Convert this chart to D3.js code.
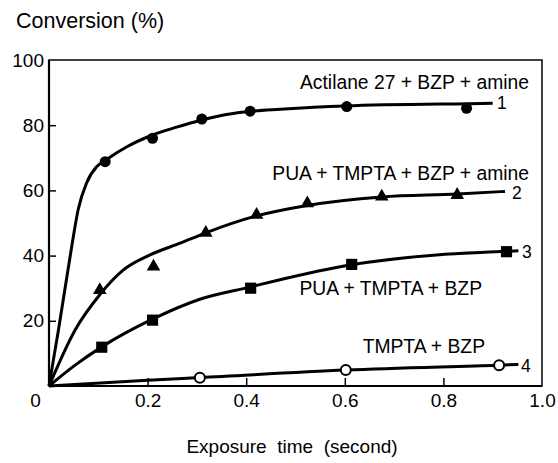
<!DOCTYPE html>
<html>
<head>
<meta charset="utf-8">
<script src="https://cdn.jsdelivr.net/npm/d3@7"></script>
<style>
  html, body { margin: 0; padding: 0; background: #fff; }
  svg { display: block; font-family: "Liberation Sans", Arial, Helvetica, sans-serif; }
</style>
</head>
<body>
<svg id="chart" width="558" height="463"></svg>
<script>
// ---------- data ----------
const xTicks = [0, 0.2, 0.4, 0.6, 0.8, 1.0];
const xTickLabels = ["0", "0.2", "0.4", "0.6", "0.8", "1.0"];
const yTicks = [20, 40, 60, 80, 100];
const yTickLabels = ["20", "40", "60", "80", "100"];

const seriesNames = ["Actilane 27 + BZP + amine", "PUA + TMPTA + BZP + amine", "PUA + TMPTA + BZP", "TMPTA + BZP"];
const seriesNumbers = ["1", "2", "3", "4"];

// measured points [time (s), conversion (%)]
const points1 = [[0.114, 68.8], [0.21, 76.0], [0.31, 81.9], [0.408, 84.3], [0.604, 85.7], [0.847, 85.2]];
const points2 = [[0.103, 29.4], [0.212, 36.6], [0.318, 47.0], [0.421, 52.5], [0.524, 56.0], [0.675, 58.1], [0.828, 58.6]];
const points3 = [[0.107, 11.9], [0.21, 20.2], [0.409, 30.0], [0.614, 37.3], [0.928, 41.2]];
const points4 = [[0.306, 2.5], [0.602, 4.9], [0.913, 6.4]];

// hand-drawn fitted curves
const curve1 = [[0, 0], [0.019, 17], [0.046, 42.7], [0.059, 54], [0.076, 62.2], [0.097, 67.3], [0.114, 69.2], [0.158, 73.4], [0.21, 77], [0.259, 79.4], [0.31, 81.6], [0.36, 83.3], [0.41, 84.3], [0.469, 84.9], [0.6, 85.9], [0.85, 86.6], [0.9, 86.7]];
const curve2 = [[0, 0], [0.053, 17.2], [0.103, 28], [0.151, 35.6], [0.205, 40.2], [0.266, 43.8], [0.318, 47], [0.421, 52.2], [0.524, 55.4], [0.675, 58], [0.828, 58.9], [0.925, 59.7]];
const curve3 = [[0, 0], [0.053, 6.4], [0.107, 12], [0.21, 20.5], [0.306, 26.6], [0.409, 30.4], [0.46, 32.3], [0.614, 37.2], [0.786, 40.2], [0.928, 41.3], [0.952, 41.5]];
const curve4 = [[0, 0], [0.2, 1.8], [0.306, 2.6], [0.602, 4.9], [0.913, 6.4], [0.952, 6.6]];

// ---------- layout ----------
const svg = d3.select("#chart");
const L = 49, R = 542, T = 60, B = 386;
const x = d3.scaleLinear().domain([0, 1]).range([L, R]);
const y = d3.scaleLinear().domain([0, 100]).range([B, T]);

// axes
const xAxis = d3.axisBottom(x).tickValues(xTicks)
  .tickFormat((d, i) => xTickLabels[i]).tickSize(-8).tickPadding(8);
const gx = svg.append("g").attr("transform", `translate(0,${B})`).call(xAxis);
gx.select(".domain").remove();
gx.selectAll(".tick line").attr("stroke", "#000").attr("stroke-width", 1.5);
gx.selectAll(".tick text").attr("font-size", 19).attr("fill", "#000")
  .attr("font-family", "Liberation Sans, Arial, sans-serif");
gx.selectAll(".tick").filter(d => d === 0).select("text").attr("x", -14);
gx.selectAll(".tick").filter(d => d === 0 || d === 1).select("line").remove();

const yAxis = d3.axisLeft(y).tickValues(yTicks)
  .tickFormat((d, i) => yTickLabels[i]).tickSize(-7).tickPadding(5);
const gy = svg.append("g").attr("transform", `translate(${L},0)`).call(yAxis);
gy.select(".domain").remove();
gy.selectAll(".tick line").attr("stroke", "#000").attr("stroke-width", 1.5);
gy.selectAll(".tick text").attr("font-size", 19).attr("fill", "#000")
  .attr("font-family", "Liberation Sans, Arial, sans-serif");
gy.selectAll(".tick").filter(d => d === 100).select("line").remove();

// frame
svg.append("rect").attr("x", L).attr("y", T).attr("width", R - L).attr("height", B - T)
  .attr("fill", "none").attr("stroke", "#000").attr("stroke-width", 1.5);
svg.append("line").attr("x1", L).attr("x2", L).attr("y1", T).attr("y2", B)
  .attr("stroke", "#000").attr("stroke-width", 2.2);
svg.append("line").attr("x1", L).attr("x2", R).attr("y1", B).attr("y2", B)
  .attr("stroke", "#000").attr("stroke-width", 2.2);

// curves
const line = d3.line().x(d => x(d[0])).y(d => y(d[1])).curve(d3.curveMonotoneX);
[curve1, curve2, curve3, curve4].forEach(c => {
  svg.append("path").attr("d", line(c)).attr("fill", "none")
    .attr("stroke", "#000").attr("stroke-width", 3).attr("stroke-linejoin", "round");
});

// markers
svg.append("g").selectAll("circle").data(points1).join("circle")
  .attr("cx", d => x(d[0])).attr("cy", d => y(d[1])).attr("r", 5.5).attr("fill", "#000");
const tri = d3.symbol().type(d3.symbolTriangle).size(80);
svg.append("g").selectAll("path").data(points2).join("path")
  .attr("d", tri).attr("transform", d => `translate(${x(d[0])},${y(d[1])})`).attr("fill", "#000");
const sq = d3.symbol().type(d3.symbolSquare).size(125);
svg.append("g").selectAll("path").data(points3).join("path")
  .attr("d", sq).attr("transform", d => `translate(${x(d[0])},${y(d[1])})`).attr("fill", "#000");
svg.append("g").selectAll("circle").data(points4).join("circle")
  .attr("cx", d => x(d[0])).attr("cy", d => y(d[1])).attr("r", 5)
  .attr("fill", "#fff").attr("stroke", "#000").attr("stroke-width", 2);

// series labels
const nameAnchors = [[529, 89], [529, 180], [482, 295], [485, 353]];
svg.append("g").selectAll("text").data(seriesNames).join("text")
  .attr("x", (d, i) => nameAnchors[i][0]).attr("y", (d, i) => nameAnchors[i][1])
  .attr("text-anchor", "end").attr("font-size", 19.3).attr("fill", "#000").text(d => d);

const numAnchors = [[497, 109], [512, 199], [522, 258], [521, 372]];
svg.append("g").selectAll("text").data(seriesNumbers).join("text")
  .attr("x", (d, i) => numAnchors[i][0]).attr("y", (d, i) => numAnchors[i][1])
  .attr("font-size", 17.5).attr("fill", "#000").text(d => d);

// axis titles
svg.append("text").attr("x", 16).attr("y", 28).attr("font-size", 21.5).attr("fill", "#000")
  .text("Conversion (%)");
svg.append("text").attr("x", 292).attr("y", 453).attr("text-anchor", "middle")
  .attr("font-size", 19).attr("fill", "#000").style("white-space", "pre")
  .text("Exposure  time  (second)");
</script>
</body>
</html>
